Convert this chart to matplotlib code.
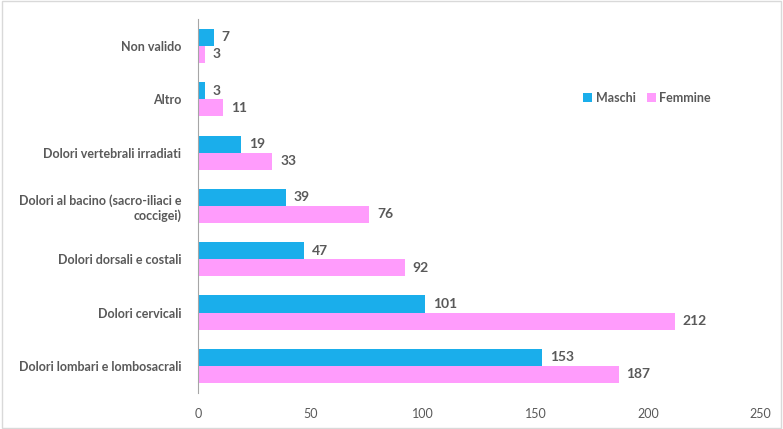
import matplotlib.pyplot as plt
import numpy as np

categories = ["Non valido", "Altro", "Dolori vertebrali irradiati",
              "Dolori al bacino (sacro-iliaci e\ncoccigei)", "Dolori dorsali e costali",
              "Dolori cervicali", "Dolori lombari e lombosacrali"]
maschi = [7, 3, 19, 39, 47, 101, 153]
femmine = [3, 11, 33, 76, 92, 212, 187]
xticks = [0, 50, 100, 150, 200, 250]

plt.rcParams['font.family'] = ['Lato', 'DejaVu Sans']
blue = '#1AAEEB'
pink = '#FF9CFC'
gray = '#595959'

fig = plt.figure(figsize=(7.83, 4.29), dpi=100)
ax = fig.add_axes([0.253, 0.085, 0.718, 0.87])

y = np.arange(len(categories))
h = 0.32
ax.barh(y - h/2, maschi, height=h, color=blue, label='Maschi')
ax.barh(y + h/2, femmine, height=h, color=pink, label='Femmine')

for yi, v in zip(y, maschi):
    ax.text(v + 3.5, yi - h/2, str(v), va='center', ha='left', fontsize=10, fontweight='bold', color=gray)
for yi, v in zip(y, femmine):
    ax.text(v + 3.5, yi + h/2, str(v), va='center', ha='left', fontsize=10, fontweight='bold', color=gray)

ax.set_ylim(len(categories) - 0.5, -0.5)
ax.set_xlim(0, 250)
ax.set_xticks(xticks)
ax.set_xticklabels([str(t) for t in xticks], fontsize=9, color=gray)
ax.set_yticks(y)
ax.set_yticklabels(categories, fontsize=9, fontweight='bold', color=gray)
ax.tick_params(axis='both', length=0)
ax.tick_params(axis='x', pad=11)
ax.tick_params(axis='y', pad=12)
for s in ['top', 'right', 'bottom']:
    ax.spines[s].set_visible(False)
ax.spines['left'].set_color('#A6A6A6')

leg = ax.legend(loc='upper left', bbox_to_anchor=(0.665, 0.835), ncol=2, frameon=False,
                fontsize=9, handlelength=0.7, handleheight=0.7, columnspacing=0.9, handletextpad=0.3)
for t in leg.get_texts():
    t.set_color(gray)
    t.set_fontweight('bold')

fig.patches.append(plt.Rectangle((0.002, 0.002), 0.996, 0.996, transform=fig.transFigure,
                                 fill=False, edgecolor='#D9D9D9', linewidth=1))
fig.savefig('out.png', dpi=100)
